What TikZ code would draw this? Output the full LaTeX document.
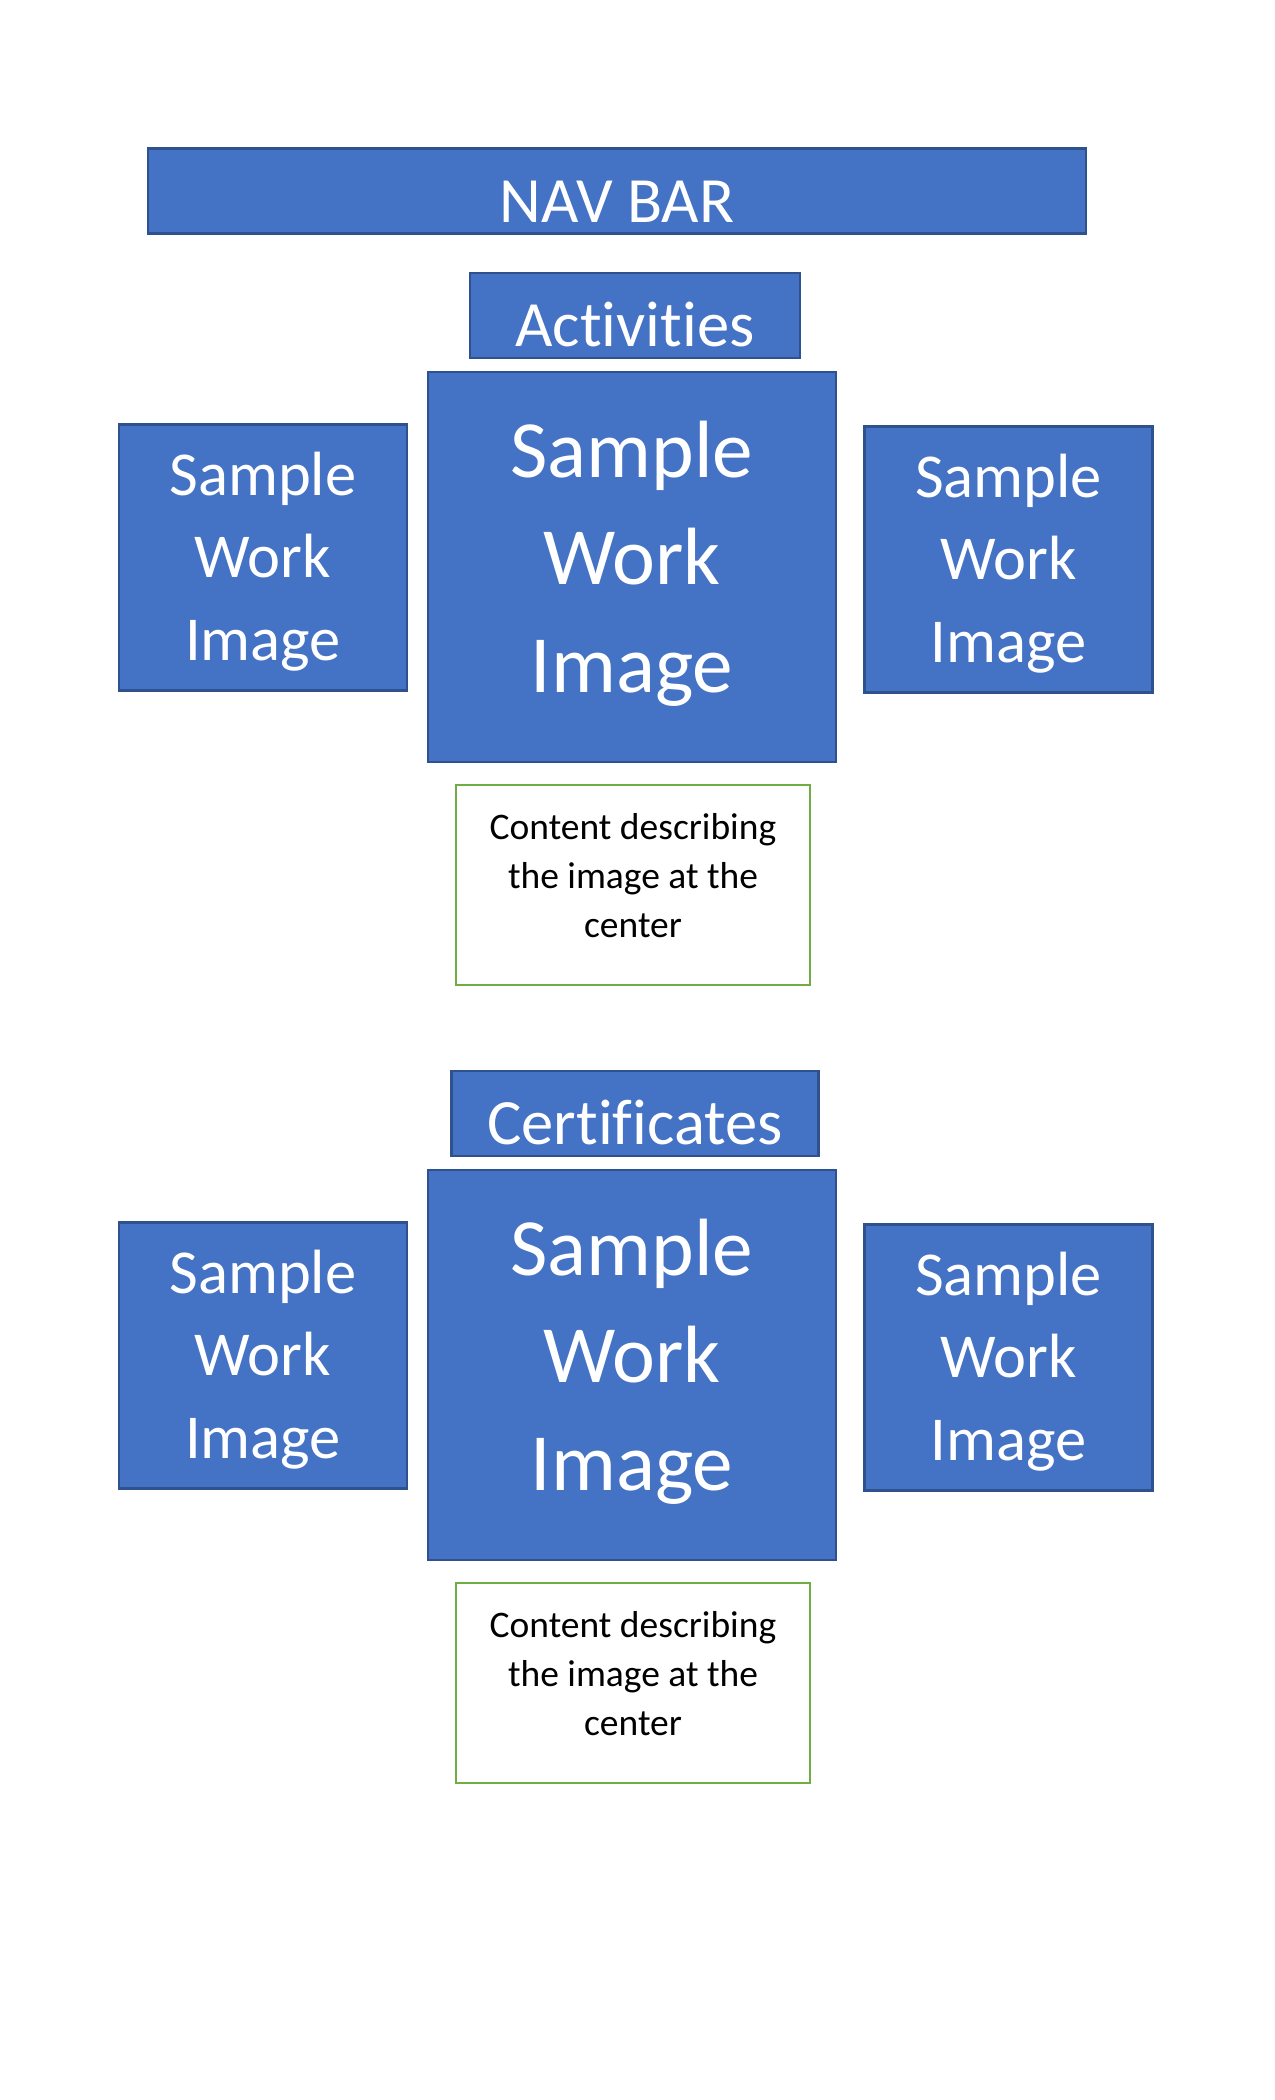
\documentclass[tikz,border=0pt]{standalone}
\usepackage{fontspec}
\setmainfont{Carlito}[Ligatures=NoCommon]
\usepackage{xcolor}
\usepackage{tikz}

\definecolor{boxblue}{HTML}{4472C4}
\definecolor{boxedge}{HTML}{2F528F}
\definecolor{notegreen}{HTML}{70AD47}
\def\px{0.48pt}

\tikzset{
  bluebox/.style={draw=boxedge, fill=boxblue, line width=1.3pt, text=white, inner sep=0pt},
  titlebox/.style={bluebox, minimum height=85*\px, font=\fontsize{31}{40}\selectfont,
    text height=30pt, text depth=0pt},
  mainimg/.style={bluebox, minimum width=408*\px, minimum height=390*\px, align=center,
    font=\fontsize{39}{51.4}\selectfont, text height=120pt, text depth=0pt},
  sideimg/.style={bluebox, minimum width=288*\px, minimum height=266*\px, align=center,
    font=\fontsize{30}{39.6}\selectfont, text height=98.5pt, text depth=0pt},
  notebox/.style={draw=notegreen, fill=white, line width=1.3pt, inner sep=0pt,
    minimum width=354*\px, minimum height=200*\px, align=center,
    font=\fontsize{18}{23.5}\selectfont, text height=50.6pt, text depth=0pt}
}

\begin{document}
\begin{tikzpicture}[x=\px, y=-\px]
  % Page
  \useasboundingbox (0, 0) rectangle (1275, 2100);

  % Navigation bar
  \node[titlebox, minimum width=938*\px] (nav) at (617, 191) {NAV BAR};

  % Sections
  \foreach \sec/\title/\w/\dy in {act/Activities/330/0, cert/Certificates/367/798} {
    \node[titlebox, minimum width=\w*\px] (\sec-title) at (635, 315.5+\dy) {\title};
    \node[mainimg] (\sec-main) at (632, 567+\dy) {Sample\\Work\\Image};
    \node[sideimg] (\sec-left) at (263, 557.5+\dy) {Sample\\Work\\Image};
    \node[sideimg] (\sec-right) at (1008.5, 559.5+\dy) {Sample\\Work\\Image};
    \node[notebox] (\sec-note) at (633, 885+\dy) {Content describing\\the image at the\\center};
  }

\end{tikzpicture}
\end{document}
